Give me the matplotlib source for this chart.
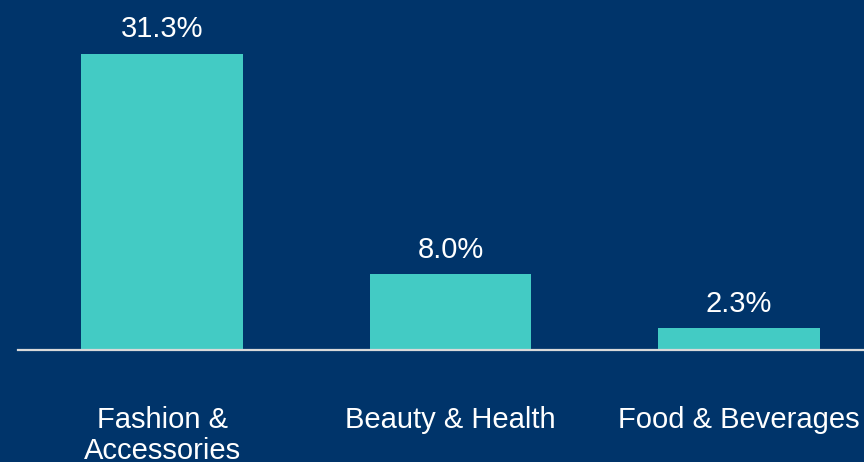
import matplotlib
matplotlib.use('Agg')
import matplotlib.pyplot as plt

plt.rcParams['font.family'] = ['Liberation Sans', 'DejaVu Sans']

categories = ['Fashion &\nAccessories', 'Beauty & Health', 'Food & Beverages']
values = [31.3, 8.0, 2.3]

bg = '#00346A'
bar_color = '#43CBC4'

fig = plt.figure(figsize=(8.64, 4.62), dpi=100, facecolor=bg)
# axes spans from x=18 to x=883 px (right part runs off the canvas), baseline at y=350
ax = fig.add_axes([18 / 864, 112 / 462, 865 / 864, 350 / 462])
ax.set_facecolor(bg)

x = list(range(len(categories)))
ax.bar(x, values, width=0.56, color=bar_color, zorder=2)
ax.axhline(0, color='#D9D9D9', lw=1.6, zorder=3, clip_on=False)

for i, v in zip(x, values):
    ax.annotate(f'{v:.1f}%', (i, v), xytext=(0, 12), textcoords='offset points',
                ha='center', va='baseline', color='white', fontsize=21)

ax.set_xlim(-0.5, 2.5)
ax.set_ylim(0, 37.0)
ax.set_xticks(x)
ax.set_xticklabels(categories, color='white', fontsize=21, linespacing=1.12)
ax.tick_params(axis='x', length=0, pad=40.5)
ax.set_yticks([])
for s in ax.spines.values():
    s.set_visible(False)

fig.savefig('out.png', dpi=100, facecolor=bg)
